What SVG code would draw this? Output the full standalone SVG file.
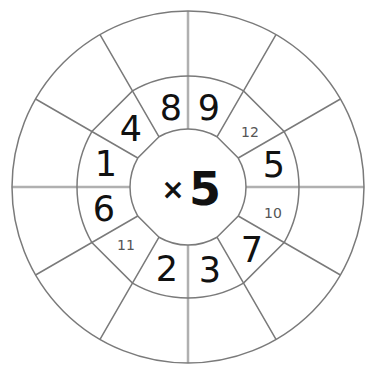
<svg xmlns="http://www.w3.org/2000/svg" width="366" height="371" viewBox="0 0 366 371">
<style>
.axis{stroke:#b0b0b0;stroke-width:2.5;fill:none}
.ln{stroke:#7a7a7a;stroke-width:1.5;fill:none}
.d{font-family:"DejaVu Sans",sans-serif;font-size:35px;fill:#111;text-anchor:middle}
.s{font-family:"DejaVu Sans",sans-serif;font-size:14px;fill:#555;text-anchor:middle}
.c{font-family:"DejaVu Sans",sans-serif;font-weight:bold;fill:#111;text-anchor:middle}
</style>
<rect width="366" height="371" fill="#fff"/>
<g id="connectors">
<path class="axis" d="M188,129 V11 M246,187 H364 M188,245 V363 M130,187 H12"/>
<path class="ln" d="M217,136.77 L276,34.58 M238.23,158 L340.42,99 M238.23,216 L340.42,275 M217,237.23 L276,339.42 M159,237.23 L100,339.42 M137.77,216 L35.58,275 M137.77,158 L35.58,99 M159,136.77 L100,34.58"/>
<circle class="ln" cx="188" cy="187" r="176"/>
<path class="ln" d="M132.5,90.87 A111 111 0 0 1 243.5,90.87 L284.13,131.5 A111 111 0 0 1 284.13,242.5 L243.5,283.13 A111 111 0 0 1 132.5,283.13 L91.87,242.5 A111 111 0 0 1 91.87,131.5 Z"/>
<path class="ln" d="M159,136.77 A58 58 0 0 1 217,136.77 L238.23,158 A58 58 0 0 1 238.23,216 L217,237.23 A58 58 0 0 1 159,237.23 L137.77,216 A58 58 0 0 1 137.77,158 Z"/>
</g>
<g id="center"><text class="c" x="173" y="199" font-size="28">×</text><text class="c" x="205" y="205" font-size="46">5</text></g>
<g id="n8"><text class="d" x="171" y="120">8</text></g>
<g id="n9"><text class="d" x="209" y="120">9</text></g>
<g id="n12"><text class="s" x="250" y="137">12</text></g>
<g id="n5"><text class="d" x="274" y="177">5</text></g>
<g id="n10"><text class="s" x="273" y="218">10</text></g>
<g id="n7"><text class="d" x="252" y="262">7</text></g>
<g id="n3"><text class="d" x="210" y="282">3</text></g>
<g id="n2"><text class="d" x="167" y="281">2</text></g>
<g id="n11"><text class="s" x="126" y="250">11</text></g>
<g id="n6"><text class="d" x="104" y="221">6</text></g>
<g id="n1"><text class="d" x="106" y="176">1</text></g>
<g id="n4"><text class="d" x="131" y="141">4</text></g>
</svg>
